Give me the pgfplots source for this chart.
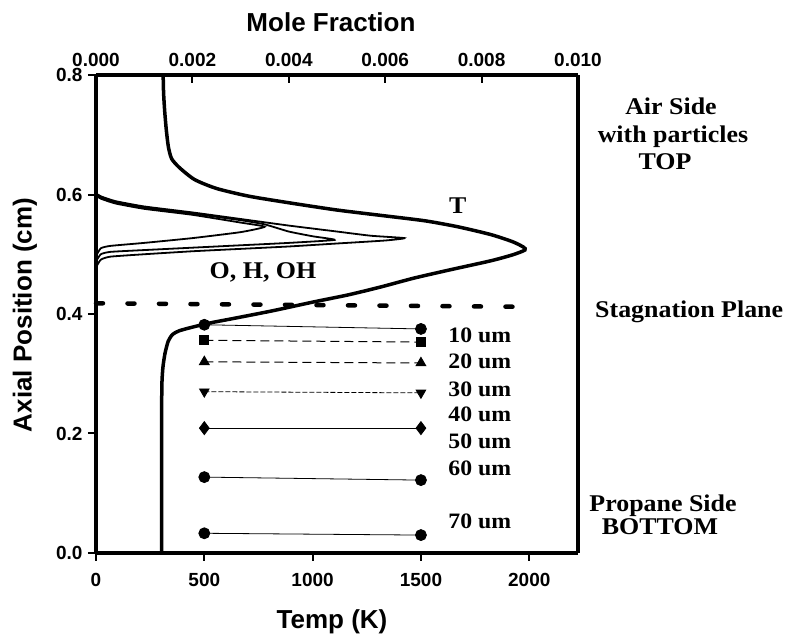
\documentclass[border=0pt]{standalone}
\usepackage{pgfplots}
\pgfplotsset{compat=1.18}
\usepackage{fontspec}
\setmainfont{Liberation Serif}
\setsansfont{Liberation Sans}

\newcommand\mytickfont{\sffamily\bfseries\fontsize{19}{22}\selectfont}
\newcommand\titlefont{\sffamily\bfseries\fontsize{26}{30}\selectfont}
\newcommand\notefont{\rmfamily\bfseries\fontsize{24}{27}\selectfont}
\newcommand\sizefont{\rmfamily\bfseries\fontsize{22}{25}\selectfont}

\begin{document}
\begin{tikzpicture}
\path[use as bounding box] (-96pt,-84pt) rectangle (692pt,553pt);

% temperature axis (bottom) with particle tracks
\begin{axis}[
  at={(0pt,0pt)}, anchor=south west, scale only axis,
  width=482pt, height=478pt,
  xmin=0, xmax=2225, ymin=0, ymax=0.8,
  xtick={0,500,1000,1500,2000}, ytick={0,0.2,0.4,0.6,0.8},
  xtick pos=bottom, ytick pos=left, tick align=outside,
  major tick length=8pt,
  tick style={line width=2pt, black},
  separate axis lines,
  axis line style={line width=3.2pt},
  tick label style={font=\mytickfont},
  /pgf/number format/assume math mode=true,
  /pgf/number format/1000 sep={},
  xticklabel={\pgfmathprintnumber{\tick}},
  yticklabel={\pgfmathprintnumber[fixed,zerofill,precision=1]{\tick}},
  xticklabel style={yshift=-9pt},
  yticklabel style={xshift=-2pt},
  clip=false,
]
% temperature profile
\addplot[line width=3.5pt, black, smooth, tension=0.4] coordinates {
  (310,0.800) (312,0.770) (317,0.740) (324,0.710) (334,0.680) (349,0.660)
  (385,0.645) (455,0.625) (557,0.610) (708,0.597) (911,0.585) (1113,0.574)
  (1316,0.565) (1518,0.556) (1670,0.546) (1822,0.533) (1923,0.521) (1973,0.512)
  (1980,0.507) (1923,0.499) (1822,0.489) (1635,0.474) (1467,0.460) (1312,0.445)
  (1164,0.432) (1002,0.420) (810,0.405) (627,0.392) (526,0.385) (445,0.378)
  (385,0.372) (354,0.366) (334,0.355) (319,0.335) (309,0.311) (304,0.280)
  (303,0.200) (303,0.000)
};
% stagnation plane
\addplot[line width=4.5pt, black, line cap=round, dash pattern=on 7pt off 24.5pt] coordinates {
  (0,0.418) (1975,0.412)
};
% particle tracks
\addplot[line width=0.8pt, black, mark=*, mark size=5.5pt] coordinates {(500,0.382) (1500,0.375)};
\addplot[line width=1pt, black, dash pattern=on 9pt off 5pt, mark=square*, mark size=4.5pt, mark options={solid}] coordinates {(500,0.356) (1500,0.353)};
\addplot[line width=1pt, black, dash pattern=on 9pt off 5pt, mark=triangle*, mark size=5.5pt, mark options={solid}] coordinates {(500,0.320) (1500,0.318)};
\addplot[line width=0.8pt, black, dash pattern=on 5pt off 2pt, mark=triangle*, mark size=5.5pt, mark options={solid, rotate=180}] coordinates {(500,0.270) (1500,0.268)};
\addplot[line width=0.8pt, black, mark=diamond*, mark size=6.5pt] coordinates {(500,0.209) (1500,0.209)};
\addplot[line width=0.8pt, black, mark=*, mark size=5.5pt] coordinates {(500,0.127) (1500,0.122)};
\addplot[line width=0.8pt, black, mark=*, mark size=5.5pt] coordinates {(500,0.033) (1500,0.030)};

\node[font=\notefont, xscale=1.08] at (axis cs:1670,0.582) {T};
\node[font=\notefont, xscale=1.08] at (axis cs:771,0.469) {O, H, OH};
\node[font=\sizefont, xscale=1.08, anchor=west, inner sep=0pt] at (axis cs:1626,0.365) {10 um};
\node[font=\sizefont, xscale=1.08, anchor=west, inner sep=0pt] at (axis cs:1626,0.321) {20 um};
\node[font=\sizefont, xscale=1.08, anchor=west, inner sep=0pt] at (axis cs:1626,0.274) {30 um};
\node[font=\sizefont, xscale=1.08, anchor=west, inner sep=0pt] at (axis cs:1626,0.232) {40 um};
\node[font=\sizefont, xscale=1.08, anchor=west, inner sep=0pt] at (axis cs:1626,0.187) {50 um};
\node[font=\sizefont, xscale=1.08, anchor=west, inner sep=0pt] at (axis cs:1626,0.142) {60 um};
\node[font=\sizefont, xscale=1.08, anchor=west, inner sep=0pt] at (axis cs:1626,0.053) {70 um};
\end{axis}

% mole fraction axis (top) with radical profiles
\begin{axis}[
  at={(0pt,0pt)}, anchor=south west, scale only axis,
  width=482pt, height=478pt,
  xmin=0, xmax=0.010, ymin=0, ymax=0.8,
  axis x line*=top, axis y line=none,
  xtick={0,0.002,0.004,0.006,0.008,0.010},
  tick align=inside, major tick length=8pt,
  tick style={line width=2pt, black},
  axis line style={line width=2.5pt},
  scaled x ticks=false,
  tick label style={font=\mytickfont},
  /pgf/number format/assume math mode=true,
  xticklabel={\pgfmathprintnumber[fixed,zerofill,precision=3]{\tick}},
  xticklabel style={yshift=5pt},
  clip=false,
]
% O
\addplot[line width=1.8pt, black, smooth, tension=0.3] coordinates {
  (0,0.598) (0.0001,0.593) (0.0004,0.585) (0.001,0.576) (0.002,0.566) (0.003,0.553) (0.0035,0.546)
  (0.003,0.537) (0.002,0.527) (0.001,0.519) (0.0003,0.514) (0.0001,0.510) (0,0.497)
};
% H
\addplot[line width=1.8pt, black, smooth, tension=0.3] coordinates {
  (0,0.600) (0.0001,0.595) (0.0004,0.587) (0.001,0.578) (0.002,0.568) (0.003,0.557) (0.0035,0.550)
  (0.004,0.538) (0.0045,0.530) (0.00495,0.524)
  (0.004,0.519) (0.003,0.515) (0.002,0.511) (0.001,0.507) (0.0003,0.504) (0.0001,0.500) (0,0.488)
};
% OH
\addplot[line width=1.8pt, black, smooth, tension=0.3] coordinates {
  (0,0.602) (0.0001,0.597) (0.0004,0.589) (0.001,0.580) (0.002,0.570) (0.003,0.559) (0.004,0.548)
  (0.005,0.538) (0.0057,0.531) (0.0064,0.527)
  (0.006,0.523) (0.005,0.518) (0.004,0.513) (0.003,0.509) (0.002,0.505) (0.001,0.500)
  (0.0003,0.496) (0.0001,0.491) (0,0.478)
};
\end{axis}

\node[font=\titlefont] at (235pt,531pt) {Mole Fraction};
\node[font=\titlefont] at (236pt,-69pt) {Temp (K)};
\node[font=\titlefont, rotate=90] at (-71pt,238pt) {Axial Position (cm)};

\node[font=\notefont, xscale=1.08, anchor=base] at (575pt,438pt) {Air Side};
\node[font=\notefont, xscale=1.08, anchor=base] at (577pt,410pt) {with particles};
\node[font=\notefont, xscale=1.08, anchor=base] at (569pt,383pt) {TOP};
\node[font=\notefont, xscale=1.08, anchor=base west, inner sep=0pt] at (499pt,235pt) {Stagnation Plane};
\node[font=\notefont, xscale=1.08, anchor=base] at (567pt,41pt) {Propane Side};
\node[font=\notefont, xscale=1.08, anchor=base] at (564pt,18pt) {BOTTOM};
\end{tikzpicture}
\end{document}
